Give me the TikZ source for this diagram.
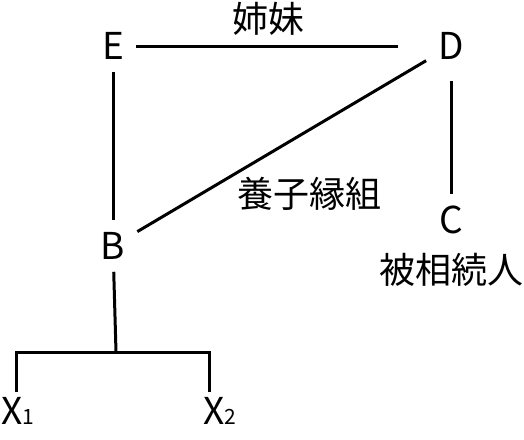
\documentclass[tikz,border=0pt]{standalone}
\usepackage{fontspec}
\setmainfont{Noto Sans CJK JP}
\newcommand{\smallidx}[1]{{\fontsize{21}{21}\selectfont #1}}
\tikzset{
  person/.style={font=\fontsize{37}{40}\selectfont, inner sep=12pt},
  heir/.style={font=\fontsize{37}{40}\selectfont, inner sep=5pt},
  note/.style={font=\fontsize{36}{40}\selectfont, inner sep=0pt},
  kin/.style={line width=3pt},
}
\begin{document}
\begin{tikzpicture}[x=1pt,y=-1pt]
  \useasboundingbox (0,0) rectangle (524,439);
  \node[person] (E) at (113,46) {E};
  \node[person] (D) [right of=E, node distance=338pt] {D};
  \node[person] (C) [below of=D, node distance=174pt] {C};
  \node[person] (B) [below of=E, node distance=200pt] {B};
  \node[note] (sisters) at (268,19) {姉妹};
  \node[note] (adoption) at (309,194) {養子縁組};
  \node[note] (deceased) [below of=C, node distance=50pt] {被相続人};
  \node[heir] (X1) at (18,411) {X\smallidx{1}};
  \node[heir] (X2) at (220,411) {X\smallidx{2}};
  \coordinate (J) at (116,352);
  \coordinate (L) at (16,352);
  \coordinate (R) at (209,352);
  \path[kin] (E) edge[shorten >=28pt] (D)
             (E) edge (B)
             (D) edge[shorten <=9pt] (C)
             (B) edge (D)
             (B) edge (J)
             ;
  \draw[kin] (X1.north -| L) -- (L) -- (R) -- (X2.north -| R);
\end{tikzpicture}
\end{document}
